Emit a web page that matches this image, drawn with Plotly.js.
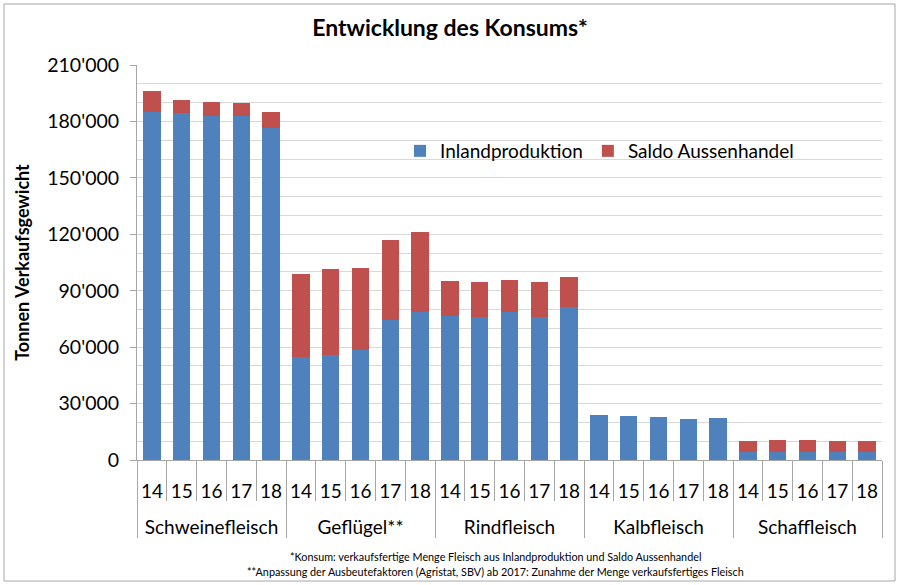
<!DOCTYPE html>
<html>
<head>
<meta charset="utf-8">
<script src="https://cdn.plot.ly/plotly-3.0.1.min.js"></script>
<style>html,body{margin:0;padding:0;background:#fff;}#chart{width:900px;height:585px;}</style>
</head>
<body>
<div id="chart"></div>
<script>
const groups = ["Schweinefleisch","Geflügel**","Rindfleisch","Kalbfleisch","Schaffleisch"];
const years = ["14","15","16","17","18"];
const inland = [
  185100, 184600, 182900, 182900, 176700,
  54600, 55800, 58500, 74600, 78500,
  76400, 76200, 78500, 76200, 81300,
  24100, 23200, 22700, 21700, 22100,
  4400, 4100, 4400, 4400, 4400
];
const saldo = [
  11000, 6600, 7600, 6900, 8100,
  44300, 45700, 43400, 42200, 42900,
  18800, 18300, 17000, 18300, 15800,
  0, 200, 300, 150, 200,
  5700, 6500, 6200, 5700, 5700
];
const seriesNames = ["Inlandproduktion","Saldo Aussenhandel"];
const footnotes = [
  "*Konsum: verkaufsfertige Menge Fleisch aus Inlandproduktion und Saldo Aussenhandel",
  "**Anpassung der Ausbeutefaktoren (Agristat, SBV) ab 2017: Zunahme der Menge verkaufsfertiges Fleisch"
];

// outer labels get a leading line break so they sit one row lower, as in the reference
const xg = [], xy = [];
groups.forEach(g => years.forEach(y => { xg.push("<br>" + g); xy.push(y); }));

const font = "Lato, 'Open Sans', sans-serif";
const traces = [
  {type:"bar", name:seriesNames[0], x:[xg,xy], y:inland, marker:{color:"#4F81BD"}},
  {type:"bar", name:seriesNames[1], x:[xg,xy], y:saldo, marker:{color:"#C0504D"}}
];
const L = 137, R = 882, T = 65, B = 460;
const px = v => (v - L)/(R - L);
const py = v => (B - v)/(B - T);

const layout = {
  width:900, height:585,
  margin:{l:L, r:900-R, t:T, b:585-B, pad:0},
  barmode:"stack", bargap:0.42,
  separators:".'",
  paper_bgcolor:"#fff", plot_bgcolor:"#fff",
  font:{family:font, size:18, color:"#000"},
  title:{text:"<b>Entwicklung des Konsums*</b>", x:0.5, xanchor:"center", y:1-28/585, yanchor:"middle", font:{family:font, size:23, color:"#000"}},
  showlegend:true,
  legend:{orientation:"h", x:px(400), xanchor:"left", y:py(151), yanchor:"middle", font:{family:font, size:19}, bgcolor:"rgba(0,0,0,0)", traceorder:"normal"},
  xaxis:{type:"multicategory", showline:true, linecolor:"#a6a6a6", linewidth:1,
    ticks:"outside", tickson:"boundaries", ticklen:40, tickcolor:"#a6a6a6",
    ticklabelstandoff:14, tickangle:0,
    showdividers:true, dividercolor:"#a6a6a6", dividerwidth:1,
    tickfont:{family:font, size:19, color:"#000"}, showgrid:false, automargin:false},
  yaxis:{range:[0,210000], dtick:30000, tick0:0, tickformat:",d", showline:true, linecolor:"#a6a6a6",
    ticks:"outside", ticklen:6, tickcolor:"#a6a6a6", showgrid:true, gridcolor:"#d9d9d9", zeroline:false,
    ticklabelstandoff:7, automargin:false,
    minor:{dtick:10000, showgrid:true, gridcolor:"#d9d9d9", ticks:""},
    tickfont:{family:font, size:19.5, color:"#000"},
    title:{text:"<b>Tonnen Verkaufsgewicht</b>", font:{family:font, size:18, color:"#000"}, standoff:12}},
  annotations:[
    {xref:"paper", yref:"paper", x:px(495), y:py(556), text:footnotes[0], showarrow:false, xanchor:"center", yanchor:"middle", font:{family:font, size:10.8, color:"#000"}},
    {xref:"paper", yref:"paper", x:px(495), y:py(571), text:footnotes[1], showarrow:false, xanchor:"center", yanchor:"middle", font:{family:font, size:10.8, color:"#000"}}
  ],
  shapes:[
    {type:"rect", xref:"paper", yref:"paper", x0:px(4), x1:px(895), y0:py(581), y1:py(4), line:{color:"#a6a6a6", width:1}, fillcolor:"rgba(0,0,0,0)", layer:"below"}
  ]
};
Plotly.newPlot("chart", traces, layout, {staticPlot:true});
</script>
</body>
</html>
